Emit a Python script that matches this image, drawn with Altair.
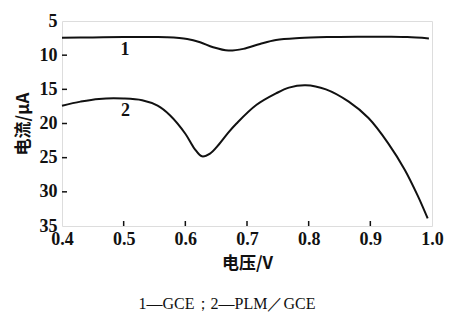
import altair as alt
import pandas as pd

# Curve 1 (GCE)
x1 = [0.40, 0.45, 0.50, 0.55, 0.57, 0.603, 0.624, 0.645, 0.670, 0.694, 0.721, 0.747, 0.785, 0.83, 0.88, 0.93, 0.96, 0.995]
y1 = [7.45, 7.40, 7.35, 7.35, 7.38, 7.63, 8.11, 8.84, 9.33, 9.08, 8.36, 7.78, 7.49, 7.35, 7.30, 7.30, 7.35, 7.55]

# Curve 2 (PLM/GCE)
x2 = [0.40, 0.43, 0.46, 0.50, 0.53, 0.555, 0.575, 0.60, 0.615, 0.627, 0.64, 0.655, 0.67, 0.683, 0.715, 0.747,
      0.768, 0.795, 0.828, 0.865, 0.897, 0.929, 0.956, 0.977, 0.993]
y2 = [17.4, 16.8, 16.4, 16.35, 16.6, 17.4, 18.8, 21.5, 23.7, 24.8, 24.4, 23.0, 21.3, 20.0, 17.3, 15.6,
      14.75, 14.4, 15.0, 16.8, 19.2, 22.9, 26.8, 30.6, 33.9]

x_ticks = [0.4, 0.5, 0.6, 0.7, 0.8, 0.9, 1.0]
y_ticks = [5, 10, 15, 20, 25, 30, 35]
x_inner_ticks = [0.5, 0.6, 0.7, 0.8, 0.9]
y_inner_ticks = [10, 15, 20, 25, 30]

label_text = ["1", "2"]
label_x = [0.502, 0.503]
label_y = [9.2, 18.2]

W, H = 370, 205

df = pd.concat([
    pd.DataFrame({"V": x1, "I": y1, "s": "1"}),
    pd.DataFrame({"V": x2, "I": y2, "s": "2"}),
])

xs = alt.Scale(domain=[0.4, 1.0], nice=False, zero=False)
ys = alt.Scale(domain=[5, 35], nice=False, zero=False, reverse=True)

serif = "Liberation Serif"
cjk = "Noto Sans CJK SC"

x_axis = alt.Axis(values=x_ticks, format=".1f", tickSize=0, domain=False, grid=False,
                  labelFont=serif, labelFontWeight="bold", labelFontSize=18, labelColor="#111",
                  labelPadding=4, labelOverlap=False, labelFlush=False,
                  title="电压/V", titleFont=cjk, titleFontSize=17, titleFontWeight="bold",
                  titleColor="#111", titlePadding=7)
y_axis = alt.Axis(values=y_ticks, tickSize=0, domain=False, grid=False,
                  labelFont=serif, labelFontWeight="bold", labelFontSize=18, labelColor="#111",
                  labelPadding=5, labelOverlap=False, labelFlush=False,
                  title="电流/μA", titleFont=cjk, titleFontSize=17, titleFontWeight="bold",
                  titleColor="#111", titlePadding=7)

lines = alt.Chart(df).mark_line(color="#111", strokeWidth=2, interpolate="catmull-rom").encode(
    x=alt.X("V:Q", scale=xs, axis=x_axis),
    y=alt.Y("I:Q", scale=ys, axis=y_axis),
    detail="s:N",
)

xt = alt.Chart(pd.DataFrame({"t": x_inner_ticks})).mark_rule(color="#111", strokeWidth=1.5).encode(
    x=alt.X("t:Q", scale=xs, axis=x_axis), y=alt.value(H), y2=alt.value(H - 5)
)
yt = alt.Chart(pd.DataFrame({"t": y_inner_ticks})).mark_rule(color="#111", strokeWidth=1.5).encode(
    y=alt.Y("t:Q", scale=ys, axis=y_axis), x=alt.value(0), x2=alt.value(5)
)

labels = alt.Chart(pd.DataFrame({"V": label_x, "I": label_y, "t": label_text})).mark_text(
    font=serif, fontSize=18, fontWeight="bold", color="#111"
).encode(x=alt.X("V:Q", scale=xs, axis=x_axis), y=alt.Y("I:Q", scale=ys, axis=y_axis), text="t:N")

chart = alt.layer(lines, xt, yt, labels).properties(
    width=W, height=H,
    title=alt.TitleParams("1—GCE；2—PLM／GCE", orient="bottom", anchor="middle",
                          font=serif, fontSize=16, fontWeight="normal", color="#111",
                          dx=-20, offset=25),
    autosize=alt.AutoSizeParams(type="none"),
    padding={"left": 54, "top": 13, "right": 13, "bottom": 88},
).configure_view(stroke="#111", strokeWidth=1.5).configure(background="white")

chart.save("out.html", embed_options={"renderer": "svg", "actions": False})
